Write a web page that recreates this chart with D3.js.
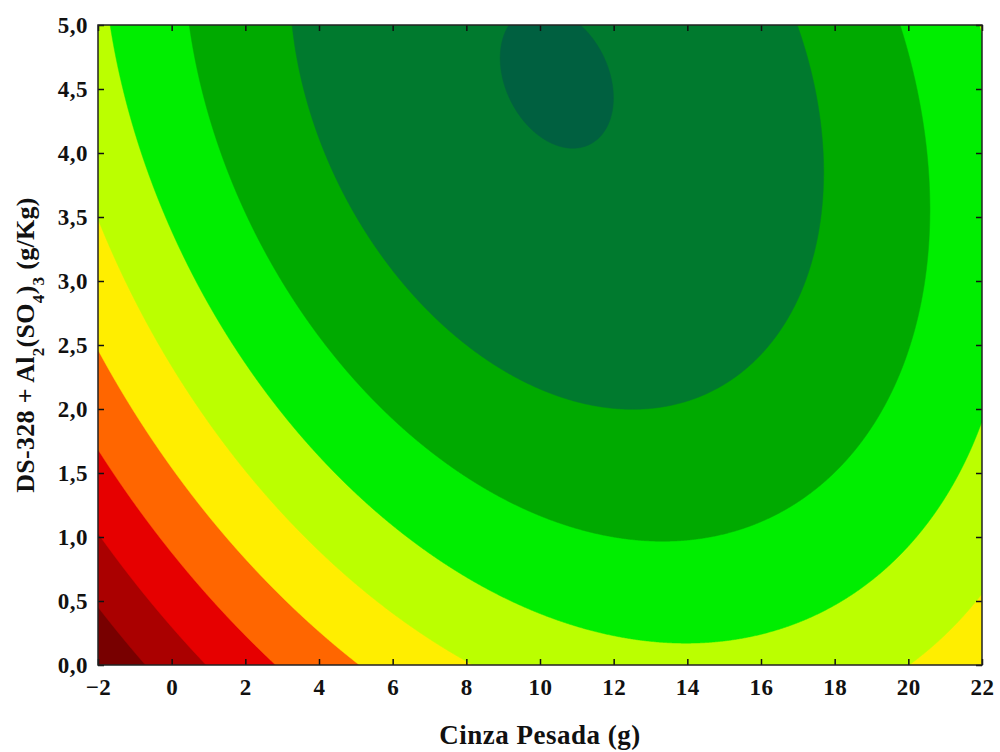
<!DOCTYPE html>
<html>
<head>
<meta charset="utf-8">
<script src="https://cdn.jsdelivr.net/npm/d3@7/dist/d3.min.js"></script>
<style>
  body { margin: 0; background: #fff; }
  text { font-family: "Liberation Serif", "Times New Roman", serif; font-weight: bold; fill: #111; }
</style>
</head>
<body>
<svg id="chart" width="1000" height="752"></svg>
<script>
// fitted response surface z = b0 + b1*x + b2*y + b11*x^2 + b22*y^2 + b12*x*y
const coefs = [1.445, 0.612, 1.92, -0.0217, -0.17, -0.0345];
const levels = [1, 2, 3, 4, 5, 6, 7, 8, 9];
const levelColors = ["#780000", "#aa0000", "#e60000", "#ff6600", "#ffee00",
  "#bbff00", "#00ee00", "#00aa00", "#007a2e", "#006040"];
const xTicks = [-2, 0, 2, 4, 6, 8, 10, 12, 14, 16, 18, 20, 22];
const yTicks = [0, 0.5, 1, 1.5, 2, 2.5, 3, 3.5, 4, 4.5, 5];
const xDomain = [-2, 22];
const yDomain = [0, 5];

const margin = { top: 25, right: 18, bottom: 87, left: 98 },
  width = 1000 - margin.left - margin.right,
  height = 752 - margin.top - margin.bottom;

const svg = d3.select("#chart");
const g = svg.append("g")
  .attr("transform", "translate(" + margin.left + "," + margin.top + ")");

const x = d3.scaleLinear().domain(xDomain).range([0, width]);
const y = d3.scaleLinear().domain(yDomain).range([height, 0]);

function surface(a, b) {
  return coefs[0] + coefs[1] * a + coefs[2] * b + coefs[3] * a * a +
    coefs[4] * b * b + coefs[5] * a * b;
}

// sample the surface on a pixel grid
const nx = Math.round(width), ny = Math.round(height);
const grid = new Float64Array(nx * ny);
for (let j = 0; j < ny; j++) {
  for (let i = 0; i < nx; i++) {
    grid[j * nx + i] = surface(x.invert(i + 0.5), y.invert(j + 0.5));
  }
}

svg.append("defs").append("clipPath").attr("id", "plotclip")
  .append("rect").attr("width", width).attr("height", height);

const plot = g.append("g").attr("clip-path", "url(#plotclip)");
plot.append("rect")
  .attr("width", width)
  .attr("height", height)
  .attr("fill", levelColors[0]);

const contours = d3.contours().size([nx, ny]).thresholds(levels)(grid);
plot.selectAll("path.band")
  .data(contours)
  .enter()
  .append("path")
  .attr("class", "band")
  .attr("d", d3.geoPath())
  .attr("fill", (d, i) => levelColors[i + 1])
  .attr("stroke", (d, i) => levelColors[i + 1])
  .attr("stroke-width", 0.5);

// axes, ticks pointing inward on all four sides
const axisStyle = (sel) => {
  sel.select(".domain").remove();
  sel.selectAll(".tick line").attr("stroke", "#111").attr("stroke-width", 1.5);
};

g.append("g")
  .attr("transform", "translate(0," + height + ")")
  .call(d3.axisBottom(x).tickValues(xTicks).tickSize(-6).tickPadding(14)
    .tickFormat(d3.format("d")))
  .call(axisStyle)
  .selectAll("text").style("font-size", "23px").style("letter-spacing", "0.5px");

g.append("g")
  .call(d3.axisTop(x).tickValues(xTicks).tickSize(-6).tickFormat(""))
  .call(axisStyle);

const commaFmt = (d) => d.toFixed(1).replace(".", ",");
g.append("g")
  .call(d3.axisLeft(y).tickValues(yTicks).tickSize(-6).tickPadding(10)
    .tickFormat(commaFmt))
  .call(axisStyle)
  .selectAll("text").style("font-size", "23px").style("letter-spacing", "0.5px");

g.append("g")
  .attr("transform", "translate(" + width + ",0)")
  .call(d3.axisRight(y).tickValues(yTicks).tickSize(-6).tickFormat(""))
  .call(axisStyle);

g.append("rect")
  .attr("width", width)
  .attr("height", height)
  .attr("fill", "none")
  .attr("stroke", "#222")
  .attr("stroke-width", 1.5);

svg.selectAll(".tick text").attr("fill", "#111");

// axis titles
svg.append("text")
  .attr("x", margin.left + width / 2)
  .attr("y", 744)
  .attr("text-anchor", "middle")
  .style("font-size", "27px")
  .style("letter-spacing", "0.5px")
  .text("Cinza Pesada (g)");

const yTitle = svg.append("text")
  .attr("transform", "translate(34," + (margin.top + height / 2) + ") rotate(-90)")
  .attr("text-anchor", "middle")
  .style("font-size", "26px")
  .style("letter-spacing", "0.3px");
yTitle.append("tspan").text("DS-328 + Al");
yTitle.append("tspan").attr("baseline-shift", "sub").style("font-size", "17px").text("2");
yTitle.append("tspan").text("(SO");
yTitle.append("tspan").attr("baseline-shift", "sub").style("font-size", "17px").text("4");
yTitle.append("tspan").text(")");
yTitle.append("tspan").attr("baseline-shift", "sub").style("font-size", "17px").text("3");
yTitle.append("tspan").text(" (g/Kg)");
</script>
</body>
</html>
